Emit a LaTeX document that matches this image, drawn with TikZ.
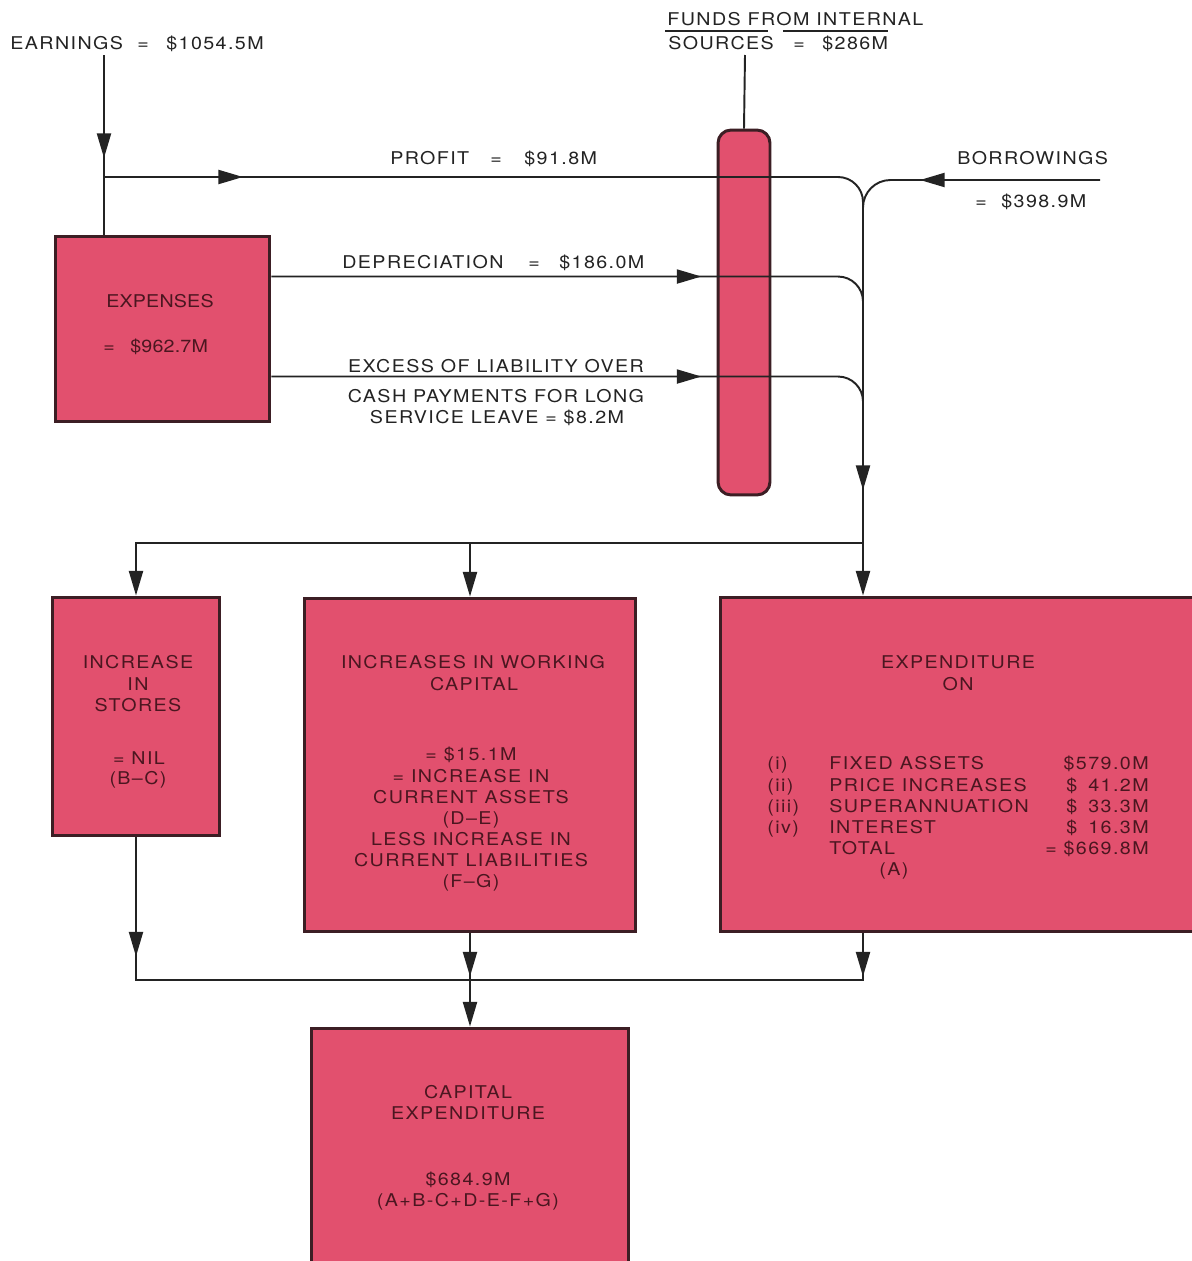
\documentclass[tikz,border=0pt]{standalone}
\usepackage{fontspec}
\setmainfont[FakeStretch=1.12,LetterSpace=8]{TeX Gyre Heros}
\newfontfamily\tightfont[FakeStretch=1.12,LetterSpace=1]{TeX Gyre Heros}
\usetikzlibrary{arrows.meta,calc,decorations.markings}
\definecolor{boxfill}{RGB}{226,80,110}
\definecolor{boxline}{RGB}{60,30,36}
\definecolor{ink}{RGB}{35,35,35}
\definecolor{boxink}{RGB}{75,22,32}
\tikzset{
  Tri/.tip={Triangle[length=14pt,width=8pt]},
  flowbox/.style={draw=boxline,fill=boxfill,line width=1.7pt,inner sep=0pt},
  flow/.style={draw=ink,line width=1.1pt},
  arrowat/.style={postaction={decorate,decoration={markings,mark=at position #1 with {\arrow{Tri}}}}},
  lbl/.style={font=\fontsize{10}{12}\selectfont,text=ink,inner sep=0pt,anchor=base},
  lblw/.style={lbl,anchor=base west},
  blbl/.style={lbl,text=boxink},
}
\begin{document}
\begin{tikzpicture}[x=0.02cm,y=-0.02cm]
\useasboundingbox[fill=white] (0,0) rectangle (1192,1261);

% boxes
\node[flowbox,minimum width=4.3cm,minimum height=3.72cm] (expenses) at (162.5,329) {};
\node[flowbox,rounded corners=0.26cm,minimum width=1.04cm,minimum height=7.3cm] (pillar) at (744,312.5) {};
\node[flowbox,minimum width=3.36cm,minimum height=4.78cm] (stores) at (136,716.5) {};
\node[flowbox,minimum width=6.64cm,minimum height=6.68cm] (working) at (470,765) {};
\node[flowbox,minimum width=9.68cm,minimum height=6.7cm] (expend) at (962,764.5) {};
\node[flowbox,minimum width=6.36cm,minimum height=4.94cm] (capital) at (470,1151.5) {};

% junctions and free ends
\coordinate (e0) at (104,55);
\coordinate (j1) at (104,177);
\coordinate (f0) at (745,55);
\coordinate (b0) at (1100,180);
\coordinate (c1) at (863,543);
\coordinate (m1) at (470,980);
\coordinate (d0) at ($(expenses.north east)+(0,42)$);
\coordinate (x0) at ($(expenses.north east)+(0,142)$);

% upper flows
\draw[flow,arrowat=2.06cm] (e0) -- (expenses.north -| e0);
\draw[flow] (f0) -- (pillar.north);
\draw[flow,rounded corners=0.5cm,arrowat=2.78cm] (j1) -- (j1 -| c1) -- (c1);
\draw[flow,rounded corners=0.55cm,arrowat=3.6cm] (b0) -- (b0 -| c1) -- (c1);
\draw[flow,rounded corners=0.5cm,arrowat=8.6cm] (d0) -- (d0 -| c1) -- (c1);
\draw[flow,rounded corners=0.5cm,arrowat=8.6cm,arrowat=-1.06cm] (x0) -- (x0 -| c1) -- (c1);

% distribution
\draw[flow,-Tri] (c1) -| (stores.north);
\draw[flow,-Tri] (c1 -| working.north) -- (working.north);
\draw[flow,-Tri] (c1) -- (expend.north -| c1);

% collection
\draw[flow,arrowat=2.38cm] (stores.south) |- (m1);
\draw[flow,arrowat=0.86cm] (working.south) -- (m1);
\draw[flow,arrowat=0.86cm] (expend.south -| c1) |- (m1);
\draw[flow,-Tri] (m1) -- (capital.north);

% labels outside boxes
\node[lblw] (earn) at (10,50) {EARNINGS};
\node[lblw] (earneq) at (137,50) {=};
\node[lblw] (earnval) at (166,50) {\$1054.5M};
\node[lblw] (funds1) at (667,26) {FUNDS FROM INTERNAL};
\node[lblw] (funds2) at (668,50) {SOURCES};
\node[lblw] (fundseq) at (793,50) {=};
\node[lblw] (fundsval) at (822,50) {\$286M};
\draw[ink,line width=0.7pt] (665,31) -- (768,31) (783,31) -- (888,31);
\node[lblw] (profit) at (390,164) {PROFIT};
\node[lblw] (profiteq) at (490,164) {=};
\node[lblw] (profitval) at (524,164) {\$91.8M};
\node[lblw] (borr1) at (957,164) {BORROWINGS};
\node[lblw] (borreq) at (975,207) {=};
\node[lblw] (borrval) at (1001,207) {\$398.9M};
\node[lblw] (dep) at (342,268) {DEPRECIATION};
\node[lblw] (depeq) at (528,268) {=};
\node[lblw] (depval) at (559,268) {\$186.0M};
\node[lbl] (exc1) at (496,372) {EXCESS OF LIABILITY OVER};
\node[lbl] (exc2) at (496,402) {CASH PAYMENTS FOR LONG};
\node[lbl] (exc3) at (497,423) {SERVICE LEAVE = \$8.2M};

% expenses
\node[blbl,font=\fontsize{10}{12}\tightfont] (ex1) at (160,307) {EXPENSES};
\node[blbl,font=\fontsize{10}{12}\tightfont,anchor=base west] (ex2eq) at (103,352) {=};
\node[blbl,font=\fontsize{10}{12}\tightfont,anchor=base west] (ex2) at (130,352) {\$962.7M};

% increase in stores
\node[blbl] (st1) at (138,668) {INCREASE};
\node[blbl] (st2) at (138,690) {IN};
\node[blbl] (st3) at (138,711) {STORES};
\node[blbl] (st4) at (139,764) {= NIL};
\node[blbl] (st5) at (138,784) {(B--C)};

% working capital
\node[blbl] (wk1) at (473,668) {INCREASES IN WORKING};
\node[blbl] (wk2) at (474,690) {CAPITAL};
\node[blbl] (wk3) at (471,760) {= \$15.1M};
\node[blbl] (wk4) at (471,782) {= INCREASE IN};
\node[blbl] (wk5) at (471,803) {CURRENT ASSETS};
\node[blbl] (wk6) at (471,824) {(D--E)};
\node[blbl] (wk7) at (471,845) {LESS INCREASE IN};
\node[blbl] (wk8) at (471,866) {CURRENT LIABILITIES};
\node[blbl] (wk9) at (471,887) {(F--G)};

% expenditure on
\node[blbl] (xp1) at (958,668) {EXPENDITURE};
\node[blbl] (xp2) at (958,690) {ON};
\node[blbl,anchor=base west] (xr1) at (767,769) {(i)};
\node[blbl,anchor=base west] (xr2) at (767,791) {(ii)};
\node[blbl,anchor=base west] (xr3) at (767,812) {(iii)};
\node[blbl,anchor=base west] (xr4) at (767,833) {(iv)};
\node[blbl,anchor=base west] (xn1) at (829,769) {FIXED ASSETS};
\node[blbl,anchor=base west] (xn2) at (829,791) {PRICE INCREASES};
\node[blbl,anchor=base west] (xn3) at (829,812) {SUPERANNUATION};
\node[blbl,anchor=base west] (xn4) at (829,833) {INTEREST};
\node[blbl,anchor=base west] (xn5) at (829,854) {TOTAL};
\node[blbl] (xn6) at (894,875) {(A)};
\node[blbl,anchor=base east] (xa1) at (1149,769) {\$579.0M};
\node[blbl,anchor=base west] (xd2) at (1066,791) {\$};
\node[blbl,anchor=base east] (xa2) at (1149,791) {41.2M};
\node[blbl,anchor=base west] (xd3) at (1066,812) {\$};
\node[blbl,anchor=base east] (xa3) at (1149,812) {33.3M};
\node[blbl,anchor=base west] (xd4) at (1066,833) {\$};
\node[blbl,anchor=base east] (xa4) at (1149,833) {16.3M};
\node[blbl,anchor=base east] (xa5) at (1149,854) {= \$669.8M};

% capital expenditure
\node[blbl] (cp1) at (468,1098) {CAPITAL};
\node[blbl] (cp2) at (468,1119) {EXPENDITURE};
\node[blbl] (cp3) at (468,1185) {\$684.9M};
\node[blbl] (cp4) at (468,1206) {(A+B-C+D-E-F+G)};
\end{tikzpicture}
\end{document}
